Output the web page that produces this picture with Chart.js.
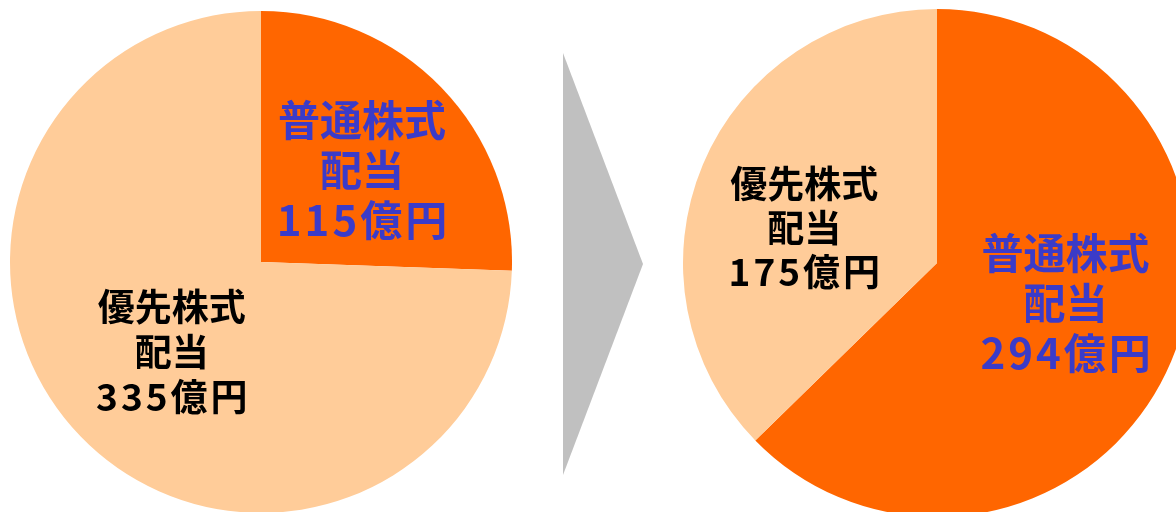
<!DOCTYPE html>
<html><head><meta charset="utf-8">
<script src="https://cdn.jsdelivr.net/npm/chart.js@4.4.1/dist/chart.umd.min.js"></script>
<style>
html,body{margin:0;padding:0;width:1176px;height:512px;overflow:hidden;background:#fff;}
.box{position:absolute;}
#arrow{position:absolute;left:563px;top:53px;width:80px;height:422px;background:#C0C0C0;clip-path:polygon(0 0,100% 50%,0 100%);}
</style></head><body>
<div class="box" style="left:10px;top:11px;width:502px;height:502px;"><canvas id="c1"></canvas></div>
<div id="arrow"></div>
<div class="box" style="left:683px;top:9px;width:508px;height:508px;"><canvas id="c2"></canvas></div>
<script>
// ---- data ----
const categories = ['普通株式配当', '優先株式配当'];
const labelLines = [['普通株式', '配当'], ['優先株式', '配当']];
const unit = '億円';
const beforeValues = [115, 335];
const afterValues = [294, 175];

// ---- styles ----
const sliceColors = ['#FF6600', '#FFCC99'];

const labelPlugin = {
  id: 'sliceLabels',
  afterDatasetsDraw(chart, args, opts) {
    const ctx = chart.ctx;
    const meta = chart.getDatasetMeta(0);
    const values = chart.data.datasets[0].data;
    meta.data.forEach((arc, i) => {
      const st = opts.styles[i];
      const p = arc.getProps(['x', 'y', 'startAngle', 'endAngle', 'outerRadius'], true);
      const mid = (p.startAngle + p.endAngle) / 2 + (st.angleShift || 0) * Math.PI / 180;
      const r = p.outerRadius * st.radiusFactor;
      const cx = p.x + Math.cos(mid) * r;
      const cy = p.y + Math.sin(mid) * r;
      const lines = [...labelLines[i], values[i] + unit];
      ctx.save();
      ctx.fillStyle = st.color;
      ctx.textAlign = 'center';
      ctx.textBaseline = 'middle';
      ctx.font = 'bold ' + st.size + 'px "Noto Sans CJK JP", sans-serif';
      lines.forEach((t, k) => {
        ctx.letterSpacing = (k === 2) ? st.digitSpacing + 'px' : '0px';
        const off = (k === 2) ? st.digitSpacing / 2 : 0;
        ctx.fillText(t, cx + off, cy + (k - 1) * st.lineHeight);
      });
      ctx.restore();
    });
  }
};

function makePie(id, values, styles) {
  return new Chart(document.getElementById(id), {
    type: 'pie',
    data: {
      labels: categories,
      datasets: [{
        data: values,
        backgroundColor: sliceColors,
        borderWidth: 0,
        hoverBorderWidth: 0,
        hoverOffset: 0,
        offset: 0
      }]
    },
    options: {
      responsive: true,
      maintainAspectRatio: false,
      animation: false,
      events: [],
      layout: { padding: 0 },
      plugins: {
        legend: { display: false },
        tooltip: { enabled: false },
        sliceLabels: { styles: styles }
      }
    },
    plugins: [labelPlugin]
  });
}

makePie('c1', beforeValues, [
  { color: '#3B3BC8', size: 42, lineHeight: 50, digitSpacing: 3, radiusFactor: 0.544, angleShift: 1.7 },
  { color: '#000000', size: 37, lineHeight: 45, digitSpacing: 3, radiusFactor: 0.505, angleShift: -1.3 }
]);

makePie('c2', afterValues, [
  { color: '#3B3BC8', size: 42, lineHeight: 50, digitSpacing: 3, radiusFactor: 0.53, angleShift: -5.6 },
  { color: '#000000', size: 37, lineHeight: 44, digitSpacing: 3, radiusFactor: 0.54, angleShift: -8.1 }
]);
</script>
</body></html>
